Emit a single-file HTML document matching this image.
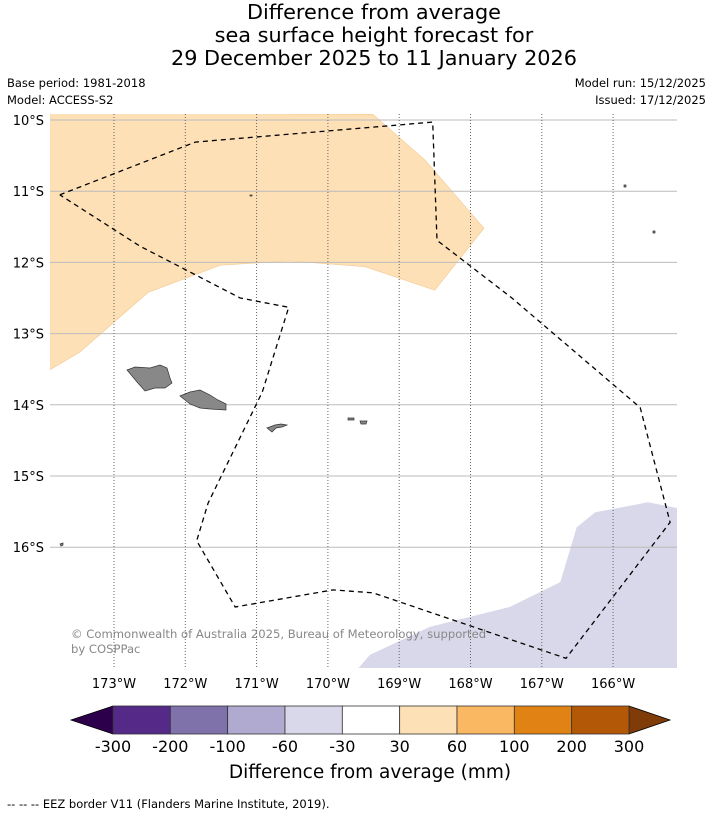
<!DOCTYPE html>
<html><head><meta charset="utf-8"><style>
html,body{margin:0;padding:0;background:#fff;}
svg text{font-family:"DejaVu Sans","Liberation Sans",sans-serif;}
</style></head><body>
<svg id="chart" width="713" height="816" viewBox="0 0 713 816" xmlns="http://www.w3.org/2000/svg">
<g font-size="20.8" text-anchor="middle" fill="#000">
<text x="374" y="19">Difference from average</text>
<text x="374" y="42">sea surface height forecast for</text>
<text x="374" y="65">29 December 2025 to 11 January 2026</text>
</g>
<text x="7" y="87" font-size="11.5">Base period: 1981-2018</text>
<text x="7" y="104" font-size="11.5">Model: ACCESS-S2</text>
<text x="706" y="87" font-size="11.5" text-anchor="end">Model run: 15/12/2025</text>
<text x="706" y="104" font-size="11.5" text-anchor="end">Issued: 17/12/2025</text>
<defs><clipPath id="mapclip"><rect x="50" y="114" width="627" height="554"/></clipPath></defs>
<g id="map" clip-path="url(#mapclip)"></g>
<g id="axes"></g>
<text x="71" y="638" font-size="11.6" fill="#888">© Commonwealth of Australia 2025, Bureau of Meteorology, supported</text>
<text x="71" y="653" font-size="11.6" fill="#888">by COSPPac</text>
<g id="cbar"></g>
<text x="370" y="778" font-size="18.5" text-anchor="middle">Difference from average (mm)</text>
<text x="7" y="808" font-size="11.5">--  --  -- EEZ border V11 (Flanders Marine Institute, 2019).</text>
</svg>
<script>
const lonTicks=[173,172,171,170,169,168,167,166];
const latTicks=[10,11,12,13,14,15,16];
const levels=[-300,-200,-100,-60,-30,30,60,100,200,300];
const levelColors=["#552988","#7f72ab","#b0a9d0","#d8d8ea","#ffffff","#fee0b6","#fbb862","#e08214","#b35806"];
const underColor="#2d004b", overColor="#7f3b08";
const positiveRegion=[[173.9,9.9],[169.37,9.92],[168.64,10.56],[167.81,11.52],[168.5,12.39],[169.48,12.06],[170.53,11.98],[171.51,12.04],[172.52,12.42],[173.48,13.26],[173.9,13.51]];
const negativeRegion=[[169.59,17.72],[169.41,17.51],[168.57,17.12],[167.45,16.84],[166.74,16.49],[166.51,15.72],[166.25,15.51],[165.51,15.37],[165.1,15.45],[165.1,17.72]];
const eezBorder=[[173.76,11.05],[171.86,10.31],[168.53,10.03],[168.47,11.69],[167.42,12.5],[165.62,14.04],[165.2,15.65],[166.66,17.56],[169.37,16.64],[169.93,16.6],[171.3,16.84],[171.84,15.91],[171.68,15.38],[170.92,13.82],[170.55,12.63],[171.23,12.5],[172.64,11.77],[173.76,11.05]];
const NS="http://www.w3.org/2000/svg";
function X(w){return 114+(173-w)*71.3;}
function Y(s){return 120+(s-10)*71.2;}
function el(tag,attrs,parent){const e=document.createElementNS(NS,tag);for(const k in attrs)e.setAttribute(k,attrs[k]);parent.appendChild(e);return e;}
const map=document.getElementById('map'),axes=document.getElementById('axes'),cbar=document.getElementById('cbar');
function pts(a){return a.map(p=>X(p[0]).toFixed(1)+','+Y(p[1]).toFixed(1)).join(' ');}
const pr=el('polygon',{points:pts(positiveRegion),fill:"#fee0b6",stroke:"#f5c890","stroke-width":0.6},map);


const nr=el('polygon',{points:pts(negativeRegion),fill:"#d8d8ea"},map);


latTicks.forEach(s=>{
 const l=el('line',{x1:50,x2:677,y1:Y(s),y2:Y(s),stroke:"#bbb","stroke-width":1},map);
 
 
 const t=el('text',{x:44,y:Y(s)+5,"font-size":13,"text-anchor":"end"},axes);t.textContent=s+"°S";
 
 
});
lonTicks.forEach(w=>{
 const l=el('line',{x1:X(w),x2:X(w),y1:114,y2:668,stroke:"#666","stroke-width":1,"stroke-dasharray":"1,2"},map);
 
 
 const t=el('text',{x:X(w),y:688,"font-size":13,"text-anchor":"middle"},axes);t.textContent=w+"°W";
 
 
});
const isl=[
"M127,370 L135,367 L150,368 L160,365 L167,368 L170,378 L172,383 L165,388 L155,388 L145,391 L137,382 Z",
"M180,396 L190,392 L200,390 L210,395 L218,400 L226,404 L226,410 L210,409 L200,408 L190,404 Z",
"M267,428 L275,425 L281,424 L287,425 L282,427 L276,428 L272,432 Z",
"M348,418 L354,418 L354,420 L348,420 Z","M360,421 L367,421 L366,424 L361,424 Z",
"M624,185 L626,185 L626,187 L624,187 Z","M653,231 L655,231 L655,233 L653,233 Z","M60,544 L63,543 L63,545 L61,546 Z","M250,195 L252,195 L252,196 L250,196 Z"];
isl.forEach(d=>{const p=el('path',{d:d,fill:"#888",stroke:"#333","stroke-width":0.7},map);
 
 });
const eez=el('polyline',{points:pts(eezBorder),fill:"none",stroke:"#000","stroke-width":1.3,"stroke-dasharray":"5,4"},map);


const cx0=113,cx1=629,cy0=706,cy1=734,n=levelColors.length,bw=(cx1-cx0)/n;
const lt=el('polygon',{points:`${cx0},${cy0} ${cx0},${cy1} 71,${(cy0+cy1)/2}`,fill:underColor,stroke:"#000","stroke-width":0.8},cbar);


const rt=el('polygon',{points:`${cx1},${cy0} ${cx1},${cy1} 670,${(cy0+cy1)/2}`,fill:overColor,stroke:"#000","stroke-width":0.8},cbar);


levelColors.forEach((c,i)=>{const r=el('rect',{x:cx0+i*bw,y:cy0,width:bw,height:cy1-cy0,fill:c,stroke:"#333","stroke-width":0.8},cbar);
 
 });
levels.forEach((v,i)=>{const t=el('text',{x:cx0+i*bw,y:752,"font-size":16,"text-anchor":"middle"},cbar);t.textContent=v;
 
 });
</script>
</body></html>
